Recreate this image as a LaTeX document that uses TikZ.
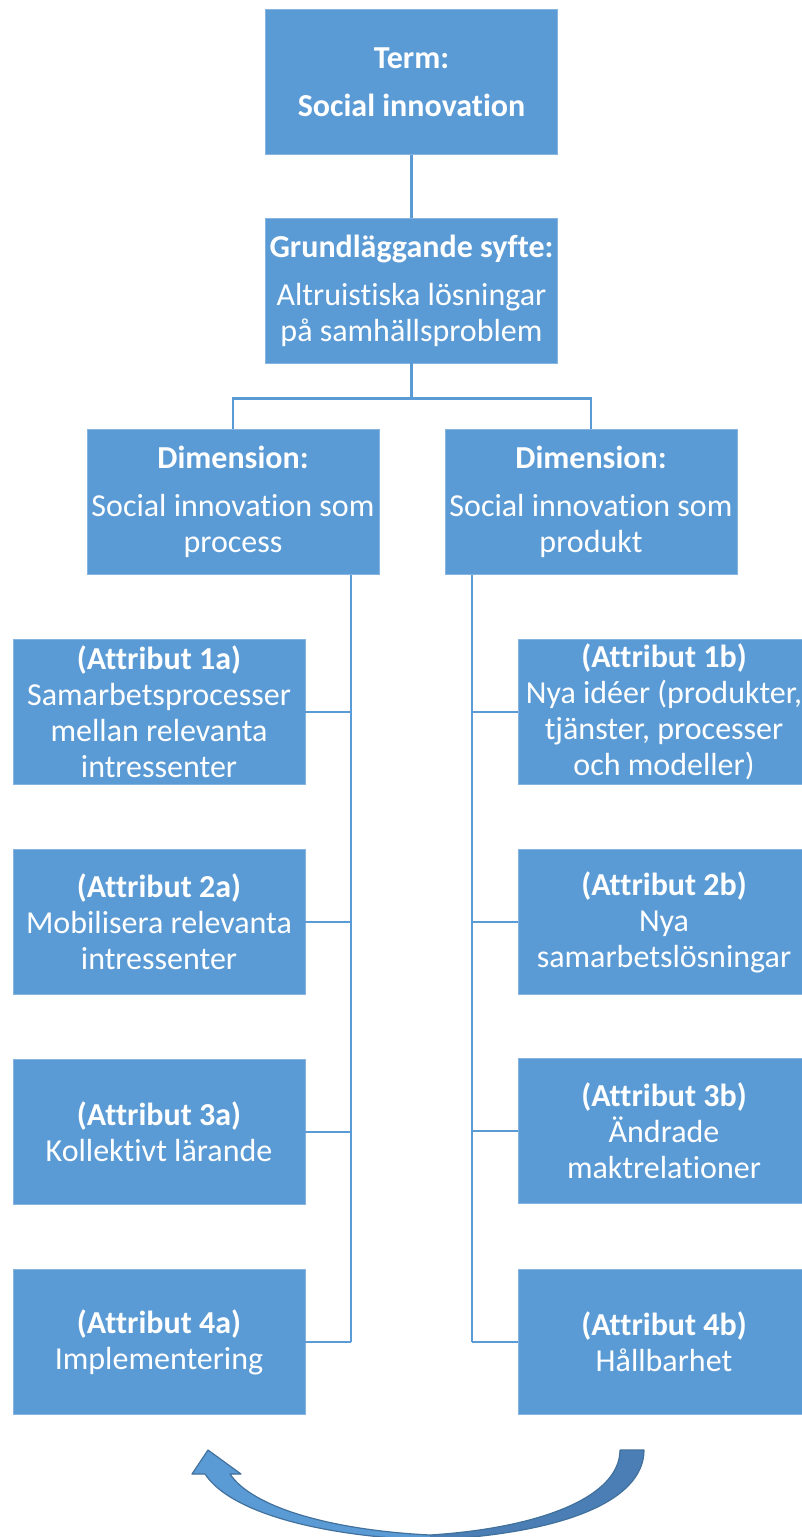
\documentclass[tikz,border=0pt]{standalone}
\usepackage{fontspec}
\setmainfont[Ligatures=NoCommon]{Carlito}
\usetikzlibrary{positioning,calc}
\definecolor{boxblue}{HTML}{5B9BD5}
\definecolor{arrowedge}{HTML}{41719C}
\definecolor{arrowdark}{HTML}{4A7EB4}
\tikzset{
	blockbox/.style={fill=boxblue, draw=boxblue!75!white, line width=0.8pt, text=white,
		minimum width=292, minimum height=145, inner sep=0pt, align=center,
		font=\fontsize{32}{36}\selectfont},
	tie/.style={draw=boxblue, line width=2.5pt},
	bendarrow/.style={draw=arrowedge, line width=1.2pt, line join=round}
}
\begin{document}
\begin{tikzpicture}[x=1pt,y=-1pt]
	\useasboundingbox (0,0) rectangle (802,1537);

	% Term box
	\node[blockbox] (term) at (411.5,82) {\textbf{Term:}\\[12pt]\textbf{Social innovation}};

	% Purpose box
	\node[blockbox] (syfte) at (411.5,290.5) {\textbf{Grundläggande syfte:}\\[12pt]Altruistiska lösningar\\på samhällsproblem};

	% Dimension boxes
	\node[blockbox] (dl) at (233,502) {\textbf{Dimension:}\\[12pt]Social innovation som\\process};
	\node[blockbox] (dr) at (591,502) {\textbf{Dimension:}\\[12pt]Social innovation som\\produkt};

	% Attribute boxes, process side
	\node[blockbox] (al1) at (159,712) {\textbf{(Attribut 1a)}\\Samarbetsprocesser\\mellan relevanta\\intressenter};
	\node[blockbox] (al2) at (159,922) {\textbf{(Attribut 2a)}\\Mobilisera relevanta\\intressenter};
	\node[blockbox] (al3) at (159,1132) {\textbf{(Attribut 3a)}\\Kollektivt lärande};
	\node[blockbox] (al4) at (159,1342) {\textbf{(Attribut 4a)}\\Implementering};

	% Attribute boxes, product side
	\node[blockbox] (ar1) at (664,712) {\textbf{(Attribut 1b)}\\Nya idéer (produkter,\\tjänster, processer\\och modeller)};
	\node[blockbox] (ar2) at (664,922) {\textbf{(Attribut 2b)}\\Nya\\samarbetslösningar};
	\node[blockbox] (ar3) at (664,1131) {\textbf{(Attribut 3b)}\\Ändrade\\maktrelationer};
	\node[blockbox] (ar4) at (664,1342) {\textbf{(Attribut 4b)}\\Hållbarhet};

	% Connectors of the tree
	\draw[tie] (term.south) -- (syfte.north);
	\coordinate (fork) at ($(syfte.south)+(0,35)$);
	\draw[tie] (syfte.south) -- (fork) -| (dl.north);
	\draw[tie] (fork) -| (dr.north);

	% Trunks with ties to the attributes
	\coordinate (tl) at ($(dl.south)+(118,0)$);
	\coordinate (tr) at ($(dr.south)+(-119,0)$);
	\draw[tie] (tl) -- (tl |- al4.east);
	\draw[tie] (tr) -- (tr |- ar4.west);
	\foreach \n in {1,...,4}{
		\draw[tie] (al\n.east) -- (al\n.east -| tl);
		\draw[tie] (ar\n.west) -- (ar\n.west -| tr);
	}

	% Curved arrow at the bottom
	\fill[boxblue] (430,1540) .. controls (330,1537) and (232,1515) .. (205,1474)
		-- (192,1474) -- (208,1450) -- (241,1474) -- (230,1474)
		.. controls (252,1507) and (330,1530) .. (430,1535) -- cycle;
	\fill[arrowdark] (620,1450) -- (644,1450) .. controls (644,1502) and (560,1534) .. (430,1540)
		-- (430,1535) .. controls (540,1528) and (620,1497) .. (620,1450) -- cycle;
	\draw[bendarrow] (620,1450) -- (644,1450) .. controls (644,1502) and (560,1534) .. (430,1540)
		.. controls (330,1537) and (232,1515) .. (205,1474)
		-- (192,1474) -- (208,1450) -- (241,1474) -- (230,1474)
		.. controls (252,1507) and (330,1530) .. (430,1535)
		.. controls (540,1528) and (620,1497) .. (620,1450);
\end{tikzpicture}
\end{document}
